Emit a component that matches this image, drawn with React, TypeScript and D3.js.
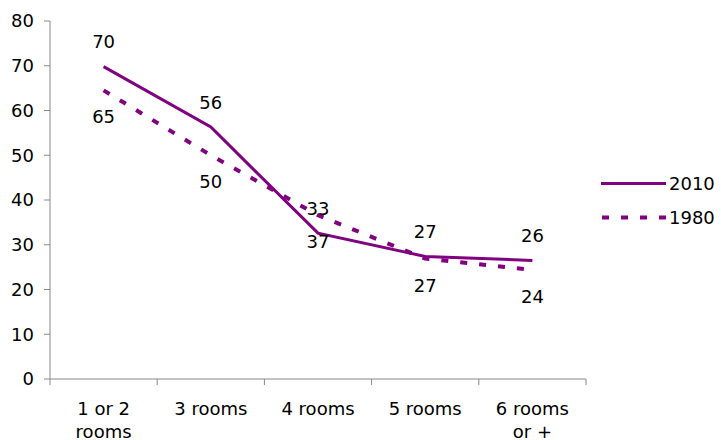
import React from "react";
import * as d3 from "d3";

const categories = ["1 or 2|rooms", "3 rooms", "4 rooms", "5 rooms", "6 rooms|or +"];
const series2010 = [69.8, 56.3, 32.6, 27.4, 26.5];
const series1980 = [64.5, 50.0, 36.6, 26.9, 24.4];
const labels2010 = ["70", "56", "33", "27", "26"];
const labels1980 = ["65", "50", "37", "27", "24"];
const yTicks = [0, 10, 20, 30, 40, 50, 60, 70, 80];

const W = 721;
const H = 440;
const COLOR = "#800080";
const FONT = "DejaVu Sans, Verdana, sans-serif";

export default function App() {
  const x = d3.scaleBand<string>().domain(categories).range([50, 586]).padding(0);
  const y = d3.scaleLinear().domain([0, 80]).range([379, 21]);
  const cx = (c: string) => (x(c) as number) + x.bandwidth() / 2;
  const line = d3
    .line<number>()
    .x((_, i) => cx(categories[i]))
    .y((d) => y(d));

  const boundaries = categories.map((c) => x(c) as number).concat([586]);

  return (
    <svg
      width={W}
      height={H}
      style={{ position: "absolute", left: 0, top: 0, background: "#fff" }}
      fontFamily={FONT}
    >
      {/* y axis */}
      <line x1={50} x2={50} y1={y(80)} y2={y(0)} stroke="#888" strokeWidth={1} />
      {yTicks.map((t) => (
        <g key={t}>
          <line x1={44} x2={50} y1={y(t)} y2={y(t)} stroke="#888" strokeWidth={1} />
          <text x={34} y={y(t)} dy="0.36em" textAnchor="end" fontSize={18} fill="#000">
            {t}
          </text>
        </g>
      ))}
      {/* x axis */}
      <line x1={50} x2={586} y1={y(0)} y2={y(0)} stroke="#888" strokeWidth={1} />
      {boundaries.map((b, i) => (
        <line key={i} x1={b} x2={b} y1={y(0)} y2={y(0) + 6} stroke="#888" strokeWidth={1} />
      ))}
      {categories.map((c) => (
        <text key={c} x={cx(c)} textAnchor="middle" fontSize={18} fill="#000">
          {c.split("|").map((ln, j) => (
            <tspan key={j} x={cx(c)} y={414.5 + j * 23}>
              {ln}
            </tspan>
          ))}
        </text>
      ))}
      {/* lines */}
      <path d={line(series1980) || ""} fill="none" stroke={COLOR} strokeWidth={4} strokeDasharray="7 12" />
      <path d={line(series2010) || ""} fill="none" stroke={COLOR} strokeWidth={3} />
      {/* data labels */}
      {series2010.map((v, i) => (
        <text key={"a" + i} x={cx(categories[i])} y={y(v) - 18.5} textAnchor="middle" fontSize={18} fill="#000">
          {labels2010[i]}
        </text>
      ))}
      {series1980.map((v, i) => (
        <text key={"b" + i} x={cx(categories[i])} y={y(v) + 33} textAnchor="middle" fontSize={18} fill="#000">
          {labels1980[i]}
        </text>
      ))}
      {/* legend */}
      <line x1={601} x2={666} y1={183.5} y2={183.5} stroke={COLOR} strokeWidth={3} />
      <text x={669} y={183.5} dy="0.36em" fontSize={18} fill="#000">2010</text>
      <line x1={602} x2={666} y1={217.5} y2={217.5} stroke={COLOR} strokeWidth={4} strokeDasharray="7 12" />
      <text x={669} y={217.5} dy="0.36em" fontSize={18} fill="#000">1980</text>
    </svg>
  );
}
